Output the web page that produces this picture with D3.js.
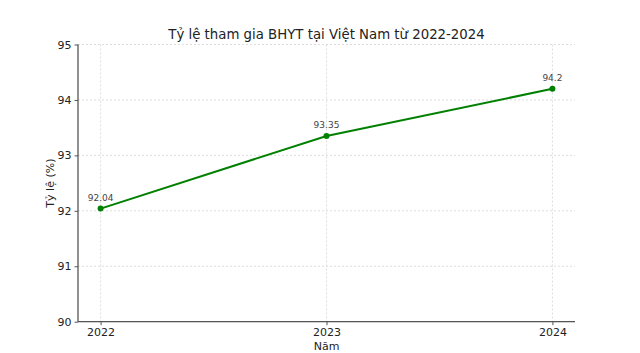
<!DOCTYPE html>
<html><head><meta charset="utf-8">
<script src="https://cdn.jsdelivr.net/npm/d3@7"></script>
<style>
body{margin:0;background:#fff;}
text{font-family:"DejaVu Sans",sans-serif;}
</style></head>
<body><svg id="c" width="640" height="353"></svg>
<script>
const years = [2022, 2023, 2024];
const rates = [92.04, 93.35, 94.2];
const yTicks = [90, 91, 92, 93, 94, 95];
const title = "Tỷ lệ tham gia BHYT tại Việt Nam từ 2022-2024";
const xLabel = "Năm";
const yLabel = "Tỷ lệ (%)";

const svg = d3.select("#c");
const L = 78, R = 575, T = 44.5, B = 321.7;
const x = d3.scaleLinear().domain([2022 - 0.1, 2024 + 0.1]).range([L, R]);
const y = d3.scaleLinear().domain([90, 95]).range([B, T]);

// grid
const g = svg.append("g");
g.selectAll(".gy").data(yTicks).join("line")
  .attr("x1", L).attr("x2", R).attr("y1", d => y(d)).attr("y2", d => y(d))
  .attr("stroke", "#d4d4d4").attr("stroke-width", 0.8).attr("stroke-dasharray", "2,2");
g.selectAll(".gx").data(years).join("line")
  .attr("x1", d => x(d)).attr("x2", d => x(d)).attr("y1", T).attr("y2", B)
  .attr("stroke", "#d4d4d4").attr("stroke-width", 0.8).attr("stroke-dasharray", "2,2");

// axes
const xa = svg.append("g").attr("transform", `translate(0,${B})`)
  .call(d3.axisBottom(x).tickValues(years).tickFormat(d3.format("d")).tickSize(3.5).tickPadding(3));
const ya = svg.append("g").attr("transform", `translate(${L},0)`)
  .call(d3.axisLeft(y).tickValues(yTicks).tickFormat(d3.format("d")).tickSize(3.5).tickPadding(3));
[xa, ya].forEach(a => {
  a.select(".domain").attr("stroke", "#555").attr("stroke-width", 1.3);
  a.selectAll(".tick line").attr("stroke", "#555");
  a.selectAll(".tick text").attr("fill", "#222").style("font-size", "11px").style("font-family", "DejaVu Sans");
});
ya.select(".domain").attr("d", `M-0,${B}V${T}`);
xa.select(".domain").attr("d", `M${L},0H${R}`);

// line
const pts = years.map((yr, i) => ({yr, v: rates[i]}));
svg.append("path").datum(pts)
  .attr("d", d3.line().x(d => x(d.yr)).y(d => y(d.v)))
  .attr("fill", "none").attr("stroke", "#008000").attr("stroke-width", 2);
svg.selectAll(".pt").data(pts).join("circle")
  .attr("cx", d => x(d.yr)).attr("cy", d => y(d.v)).attr("r", 3).attr("fill", "#008000");
svg.selectAll(".lbl").data(pts).join("text")
  .attr("x", d => x(d.yr)).attr("y", d => y(d.v) - 7.5)
  .attr("text-anchor", "middle").attr("fill", "#444").style("font-size", "9px")
  .text(d => d.v);

// titles
svg.append("text").attr("x", (L + R) / 2).attr("y", 39).attr("text-anchor", "middle")
  .attr("fill", "#222").style("font-size", "13.3px").text(title);
svg.append("text").attr("x", (L + R) / 2).attr("y", 350).attr("text-anchor", "middle")
  .attr("fill", "#222").style("font-size", "11px").text(xLabel);
svg.append("text").attr("transform", `translate(54,${(T + B) / 2}) rotate(-90)`)
  .attr("text-anchor", "middle").attr("fill", "#222").style("font-size", "11px").text(yLabel);
</script></body></html>
